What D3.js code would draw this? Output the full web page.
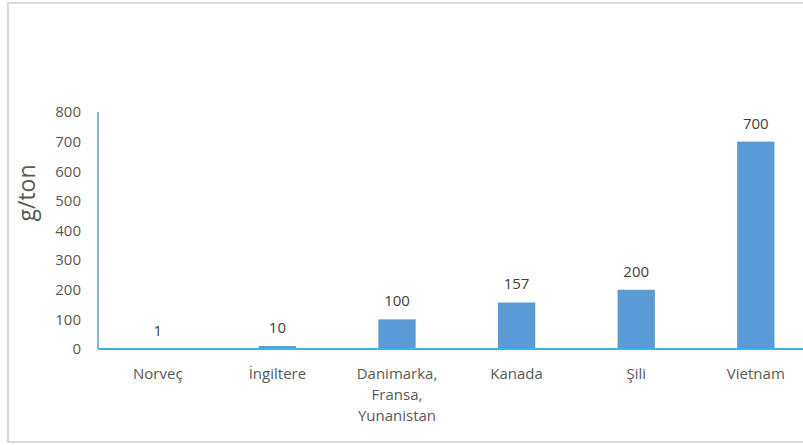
<!DOCTYPE html>
<html>
<head>
<meta charset="utf-8">
<script src="https://cdn.jsdelivr.net/npm/d3@7"></script>
<style>
  html, body { margin: 0; padding: 0; background: #fff; }
  svg { display: block; }
</style>
</head>
<body>
<svg id="chart" width="803" height="445"></svg>
<script>
const categories = ["Norveç", "İngiltere", "Danimarka, Fransa, Yunanistan", "Kanada", "Şili", "Vietnam"];
const categoryLines = [["Norveç"], ["İngiltere"], ["Danimarka,", "Fransa,", "Yunanistan"], ["Kanada"], ["Şili"], ["Vietnam"]];
const values = [1, 10, 100, 157, 200, 700];
const yTicks = [0, 100, 200, 300, 400, 500, 600, 700, 800];
const yTitle = "g/ton";

const svg = d3.select("#chart");
const font = "'Open Sans', sans-serif";

// outer border
svg.append("rect")
  .attr("x", 8).attr("y", 3).attr("width", 803).attr("height", 439)
  .attr("fill", "none").attr("stroke", "#d9d9d9").attr("stroke-width", 2);

const x0 = 98, x1 = 815.6;
const yBottom = 349, yTop = 112;

const x = d3.scaleBand().domain(categories).range([x0, x1]).padding(0);
const y = d3.scaleLinear().domain([0, 800]).range([yBottom, yTop]);
const barW = x.bandwidth() * 0.312;

// y axis
const yAxis = d3.axisLeft(y).tickValues(yTicks).tickSize(0).tickPadding(17);
const gy = svg.append("g").attr("transform", `translate(${x0},0)`).call(yAxis);
gy.select(".domain").attr("stroke", "#5b9bd5").attr("stroke-width", 1.5).attr("d", `M0,${yTop}V${yBottom}`);
gy.selectAll("text").attr("font-family", font).attr("font-size", 15).attr("fill", "#595959");

// bars
svg.append("g").selectAll("rect").data(values).join("rect")
  .attr("x", (d, i) => x(categories[i]) + x.bandwidth() / 2 - barW / 2)
  .attr("y", d => y(d))
  .attr("width", barW)
  .attr("height", d => y(0) - y(d))
  .attr("fill", "#5b9bd5");

// data labels
svg.append("g").selectAll("text").data(values).join("text")
  .attr("x", (d, i) => x(categories[i]) + x.bandwidth() / 2)
  .attr("y", d => y(d) - 13)
  .attr("text-anchor", "middle")
  .attr("font-family", font).attr("font-size", 15).attr("fill", "#404040")
  .text(d => d);

// x axis
const xAxis = d3.axisBottom(x).tickSize(0).tickFormat("");
const gx = svg.append("g").attr("transform", `translate(0,${yBottom})`).call(xAxis);
gx.select(".domain").attr("stroke", "#3cb4ea").attr("stroke-width", 2).attr("d", `M${x0},0H${x1}`);

// x labels
const xl = svg.append("g").selectAll("text").data(categories).join("text")
  .attr("text-anchor", "middle")
  .attr("font-family", font).attr("font-size", 15).attr("fill", "#595959")
  .attr("transform", d => `translate(${x(d) + x.bandwidth() / 2},379)`);
xl.each(function(d, i) {
  d3.select(this).selectAll("tspan").data(categoryLines[i]).join("tspan")
    .attr("x", 0).attr("dy", (t, j) => j === 0 ? 0 : 21).text(t => t);
});

// y title
svg.append("text")
  .attr("transform", "translate(35,193) rotate(-90)")
  .attr("text-anchor", "middle")
  .attr("font-family", font).attr("font-size", 23).attr("fill", "#595959")
  .text(yTitle);
</script>
</body>
</html>
